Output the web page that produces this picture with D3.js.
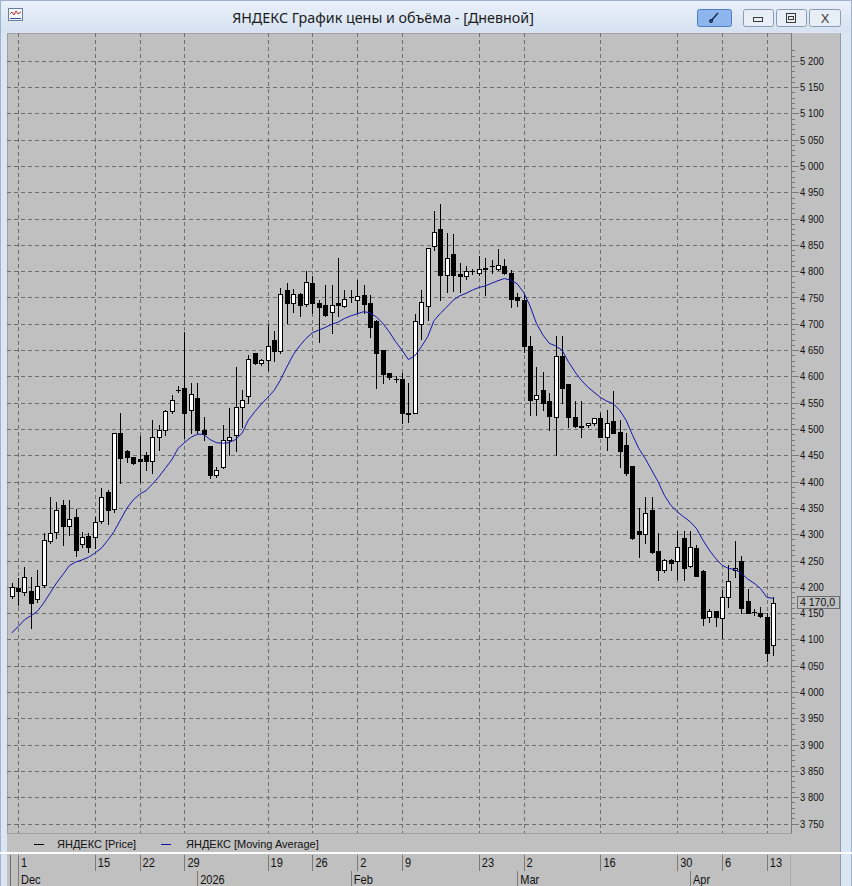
<!DOCTYPE html>
<html><head><meta charset="utf-8">
<script src="https://cdn.jsdelivr.net/npm/d3@7"></script>
<style>
html,body{margin:0;padding:0;background:#dce6f3;}
svg{display:block;}
</style></head><body><svg id="c" width="852" height="886"></svg>
<script>
// ---- data ----
const openP=[4183,4197,4190,4192,4176,4203,4288,4305,4355,4316,4332,4281,4296,4295,4326,4380,4347,4492,4458,4446,
4443,4451,4439,4484,4499,4534,4575,4577,4536,4558,4499,4468,4412,4428,4480,4488,4541,4563,4644,4625,
4632,4669,4649,4764,4740,4756,4737,4777,4739,4736,4722,4739,4734,4750,4745,4755,4739,4706,4650,4606,
4595,4596,4531,4530,4700,4733,4847,4880,4792,4833,4795,4791,4800,4796,4807,4809,4805,4810,4796,4750,
4745,4658,4557,4574,4553,4522,4639,4585,4523,4506,4507,4512,4520,4485,4515,4495,4469,4430,4306,4300,
4346,4268,4231,4251,4250,4293,4240,4274,4230,4142,4154,4140,4181,4232,4249,4173,4153,4151,4142,4089];
const highP=[4207,4216,4237,4219,4232,4302,4371,4362,4365,4365,4348,4305,4302,4333,4387,4384,4493,4530,4460,4447,
4487,4457,4517,4508,4537,4565,4582,4684,4587,4588,4523,4468,4428,4508,4539,4618,4575,4641,4645,4634,
4698,4687,4769,4778,4767,4758,4801,4790,4746,4774,4774,4826,4765,4764,4783,4774,4755,4707,4651,4607,
4601,4606,4588,4719,4764,4845,4915,4928,4872,4870,4815,4809,4805,4828,4826,4821,4843,4824,4802,4758,
4755,4677,4618,4609,4568,4676,4676,4585,4553,4553,4511,4521,4531,4536,4572,4517,4492,4430,4349,4371,
4370,4302,4252,4252,4307,4307,4307,4279,4232,4157,4154,4194,4241,4287,4259,4196,4157,4162,4151,4181];
const lowP=[4178,4165,4184,4121,4172,4200,4283,4292,4280,4299,4259,4276,4267,4273,4321,4320,4343,4397,4438,4433,
4400,4422,4416,4461,4488,4530,4571,4482,4492,4492,4479,4406,4408,4425,4450,4459,4504,4549,4624,4622,
4613,4630,4645,4702,4723,4714,4734,4721,4666,4715,4682,4714,4731,4742,4720,4720,4674,4577,4587,4596,
4590,4512,4514,4530,4672,4708,4840,4746,4761,4763,4761,4786,4795,4793,4755,4796,4802,4795,4731,4733,
4647,4527,4527,4536,4499,4451,4550,4504,4504,4485,4503,4507,4485,4460,4492,4428,4412,4290,4256,4283,
4265,4213,4229,4231,4214,4213,4238,4221,4127,4134,4125,4102,4162,4219,4150,4150,4146,4143,4058,4070];
const closeP=[4200,4192,4219,4170,4201,4289,4302,4346,4316,4328,4270,4295,4276,4324,4371,4346,4492,4444,4446,4435,
4439,4439,4484,4499,4534,4555,4575,4530,4566,4498,4490,4412,4422,4480,4485,4541,4555,4634,4625,4631,
4658,4649,4756,4740,4756,4736,4779,4739,4731,4717,4736,4735,4748,4750,4752,4738,4694,4644,4604,4598,
4595,4530,4528,4706,4742,4845,4874,4793,4826,4793,4790,4801,4800,4804,4804,4809,4811,4796,4748,4745,
4657,4556,4564,4550,4525,4638,4577,4523,4506,4503,4511,4520,4485,4512,4493,4459,4416,4293,4300,4340,
4267,4231,4251,4245,4275,4236,4275,4221,4141,4154,4143,4181,4211,4236,4160,4150,4153,4144,4075,4170];
const maP=[4112,4124,4137,4145,4153,4169,4188,4207,4223,4240,4247,4251,4256,4264,4273,4288,4305,4327,4349,4365,
4376,4383,4395,4409,4425,4441,4463,4474,4484,4490,4490,4480,4474,4473,4474,4480,4492,4517,4533,4547,
4560,4573,4593,4618,4641,4658,4672,4683,4688,4693,4699,4703,4710,4715,4719,4723,4721,4713,4701,4685,
4666,4650,4632,4639,4656,4675,4706,4720,4732,4745,4753,4758,4764,4769,4772,4777,4782,4786,4783,4776,
4760,4734,4701,4679,4663,4658,4650,4628,4609,4593,4580,4570,4560,4553,4548,4536,4517,4489,4463,4444,
4422,4400,4374,4355,4343,4333,4324,4311,4289,4270,4254,4241,4235,4233,4226,4215,4207,4197,4180,4178];
const dayTickIdx=[1,13,20,27,40,47,54,61,73,80,92,104,111,118];
const dayTickLabels=["1","15","22","29","19","26","2","9","23","2","16","30","6","13"];
const monthTickIdx=[1,29,53,79,106];
const monthLabels=["Dec","2026","Feb","Mar","Apr"];
const yTickValues=[3750,3800,3850,3900,3950,4000,4050,4100,4150,4200,4250,4300,4350,4400,4450,4500,4550,4600,4650,4700,4750,4800,4850,4900,4950,5000,5050,5100,5150,5200];
const lastPrice=4170.0;
const titleText="ЯНДЕКС График цены и объёма - [Дневной]";
const legendLabels=["ЯНДЕКС [Price]","ЯНДЕКС [Moving Average]"];

// ---- layout ----
const W=852,H=886;
const plot={l:7,r:791,t:33,b:833};
const svg=d3.select("#c");
const n=closeP.length;
const x=d3.scaleLinear().domain([0,n-1]).range([11.6,773.2]);
const y=d3.scaleLinear().domain([3750,5200]).range([823.5,60.8]);
const sans='"Liberation Sans",Arial,sans-serif';

// window frame / title bar
const defs=svg.append("defs");
const tg=defs.append("linearGradient").attr("id","tb").attr("x1",0).attr("y1",0).attr("x2",0).attr("y2",1);
tg.append("stop").attr("offset","0").attr("stop-color","#eaf1fa");
tg.append("stop").attr("offset","1").attr("stop-color","#d6e2f1");
svg.append("rect").attr("x",0).attr("y",0).attr("width",W).attr("height",H).attr("fill","#dce6f3");
svg.append("rect").attr("x",0).attr("y",0).attr("width",W).attr("height",32).attr("fill","url(#tb)");
svg.append("rect").attr("x",0.5).attr("y",0.5).attr("width",W-1).attr("height",H).attr("fill","none").attr("stroke","#9fb3cc");
svg.append("text").attr("x",383).attr("y",23).attr("text-anchor","middle")
  .attr("font-family",'"Noto Sans","Open Sans",sans-serif').attr("font-size",14.3).attr("fill","#1b1b1b").text(titleText);
// icon
const ic=svg.append("g");
ic.append("rect").attr("x",8.5).attr("y",8.5).attr("width",14).attr("height",12).attr("fill","#f4f7fb").attr("stroke","#6b7f99");
ic.append("polyline").attr("points","10,14 12,12 14,15 16,11 18,14 21,12").attr("fill","none").attr("stroke","#c03030").attr("stroke-width",1);
ic.append("line").attr("x1",10).attr("x2",21).attr("y1",18.5).attr("y2",18.5).attr("stroke","#3050a0");
// buttons
const btn=(x0,w,fill,stroke)=>svg.append("rect").attr("x",x0+0.5).attr("y",9.5).attr("width",w).attr("height",17).attr("rx",2).attr("fill",fill).attr("stroke",stroke);
btn(697,34,"#8db6ee","#4d7dc2");
svg.append("line").attr("x1",710).attr("y1",22).attr("x2",718).attr("y2",13).attr("stroke","#1a2a50").attr("stroke-width",1.5);
svg.append("circle").attr("cx",711).attr("cy",21).attr("r",1.6).attr("fill","none").attr("stroke","#1a2a50");
btn(743,30,"#e8eef6","#8a9bb3");
svg.append("rect").attr("x",753.5).attr("y",17.5).attr("width",9).attr("height",4).attr("fill","none").attr("stroke","#3a3a3a");
btn(776,30,"#e8eef6","#8a9bb3");
svg.append("rect").attr("x",786.5).attr("y",13.5).attr("width",9).attr("height",9).attr("fill","none").attr("stroke","#3a3a3a");
svg.append("rect").attr("x",788.5).attr("y",16.5).attr("width",5).attr("height",3).attr("fill","none").attr("stroke","#3a3a3a");
btn(809,31,"#e8eef6","#8a9bb3");
svg.append("text").attr("x",825).attr("y",23).attr("text-anchor","middle").attr("font-family",sans).attr("font-size",13).attr("fill","#3a3a3a").text("X");

// chart background
svg.append("rect").attr("x",plot.l).attr("y",plot.t).attr("width",840-plot.l).attr("height",H-plot.t).attr("fill","#c0c0c0");
svg.append("line").attr("x1",840.5).attr("x2",840.5).attr("y1",plot.t).attr("y2",H).attr("stroke","#8d9db2");
svg.append("rect").attr("x",plot.l+0.5).attr("y",plot.t+0.5).attr("width",plot.r-plot.l).attr("height",plot.b-plot.t).attr("fill","none").attr("stroke","#a0a0a0");

// grid
const grid=svg.append("g").attr("stroke","#6e6e6e").attr("stroke-dasharray","4,3").attr("shape-rendering","crispEdges");
grid.selectAll("line.h").data(yTickValues).join("line").attr("class","h")
  .attr("x1",plot.l).attr("x2",plot.r).attr("y1",d=>Math.round(y(d))+0.5).attr("y2",d=>Math.round(y(d))+0.5);
grid.selectAll("line.v").data(dayTickIdx).join("line").attr("class","v")
  .attr("y1",plot.t).attr("y2",plot.b).attr("x1",d=>Math.round(x(d))+0.5).attr("x2",d=>Math.round(x(d))+0.5);
// top ticks
svg.append("g").attr("stroke","#6e6e6e").attr("shape-rendering","crispEdges").selectAll("line").data(dayTickIdx).join("line")
  .attr("y1",plot.t).attr("y2",plot.t+4).attr("x1",d=>Math.round(x(d))+0.5).attr("x2",d=>Math.round(x(d))+0.5);

// right axis
const yMinor=d3.range(3750,5221,10);
const ax=svg.append("g").attr("shape-rendering","crispEdges");
ax.append("line").attr("x1",plot.r+0.5).attr("x2",plot.r+0.5).attr("y1",plot.t).attr("y2",plot.b).attr("stroke","#7a7a7a");
ax.selectAll("line.mi").data(yMinor.filter(v=>y(v)>plot.t)).join("line").attr("class","mi")
  .attr("x1",plot.r).attr("x2",plot.r+4).attr("y1",d=>Math.round(y(d))+0.5).attr("y2",d=>Math.round(y(d))+0.5).attr("stroke","#7a7a7a");
ax.selectAll("line.ma").data(yTickValues).join("line").attr("class","ma")
  .attr("x1",plot.r).attr("x2",plot.r+8).attr("y1",d=>Math.round(y(d))+0.5).attr("y2",d=>Math.round(y(d))+0.5).attr("stroke","#7a7a7a");
const fmt=v=>d3.format(",")(v).replace(/,/g," ");
svg.append("g").selectAll("text").data(yTickValues).join("text")
  .attr("transform",d=>`translate(800,${y(d)+4}) scale(0.86,1)`)
  .attr("font-family",sans).attr("font-size",11).attr("fill","#111").text(fmt);
// last price label
const lp=svg.append("g");
lp.append("rect").attr("x",797.5).attr("y",Math.round(y(lastPrice))-6.5).attr("width",42).attr("height",12).attr("fill","#c0c0c0").attr("stroke","#6e6e6e");
lp.append("text").attr("transform",`translate(800,${y(lastPrice)+3})`).attr("font-family",sans).attr("font-size",10.5).attr("fill","#111")
  .text(d3.format(",.1f")(lastPrice).replace(/,/g," ").replace(".",","));

// candles
const idx=d3.range(n);
const cg=svg.append("g").attr("shape-rendering","crispEdges");
cg.selectAll("line.w").data(idx).join("line").attr("class","w")
  .attr("x1",i=>Math.round(x(i))+0.5).attr("x2",i=>Math.round(x(i))+0.5)
  .attr("y1",i=>Math.round(y(highP[i]))).attr("y2",i=>Math.round(y(lowP[i]))+1).attr("stroke","#000");
cg.selectAll("rect.b").data(idx).join("rect").attr("class","b")
  .each(function(i){
    const up=closeP[i]>=openP[i];
    const yt=Math.round(y(Math.max(openP[i],closeP[i])));
    const yb=Math.round(y(Math.min(openP[i],closeP[i])));
    const cx=Math.round(x(i));
    const s=d3.select(this);
    if(up && yb-yt>=2){
      s.attr("x",cx-2+0.5).attr("y",yt+0.5).attr("width",4).attr("height",yb-yt).attr("fill","#fff").attr("stroke","#000");
    } else {
      s.attr("x",cx-2).attr("y",yt).attr("width",5).attr("height",Math.max(1,yb-yt+1)).attr("fill","#000");
    }
  });

// moving average
svg.append("path").datum(maP).attr("fill","none").attr("stroke","#1414a8").attr("stroke-width",1)
  .attr("d",d3.line().x((d,i)=>x(i)).y(d=>y(d)));

// legend
const lg=svg.append("g").attr("font-family",sans).attr("font-size",11).attr("fill","#111");
lg.append("line").attr("x1",34).attr("x2",44).attr("y1",844.5).attr("y2",844.5).attr("stroke","#000");
lg.append("text").attr("x",57).attr("y",848).text(legendLabels[0]);
lg.append("line").attr("x1",161).attr("x2",171).attr("y1",844.5).attr("y2",844.5).attr("stroke","#1414a8");
lg.append("text").attr("x",186).attr("y",848).text(legendLabels[1]);

// date axis
svg.append("rect").attr("x",0).attr("y",852).attr("width",W).attr("height",2).attr("fill","#ffffff");
const da=svg.append("g").attr("shape-rendering","crispEdges");
da.append("line").attr("x1",10.5).attr("x2",10.5).attr("y1",855).attr("y2",H).attr("stroke","#6e6e6e");
da.append("line").attr("x1",790.5).attr("x2",790.5).attr("y1",855).attr("y2",H).attr("stroke","#a8a8a8");
da.selectAll("line.d").data(dayTickIdx).join("line").attr("class","d")
  .attr("x1",d=>Math.round(x(d))+0.5).attr("x2",d=>Math.round(x(d))+0.5).attr("y1",855).attr("y2",871).attr("stroke","#7a7a7a");
da.selectAll("line.m").data(monthTickIdx).join("line").attr("class","m")
  .attr("x1",d=>Math.round(x(d))+0.5).attr("x2",d=>Math.round(x(d))+0.5).attr("y1",871).attr("y2",H).attr("stroke","#7a7a7a");
da.selectAll("text.d").data(dayTickIdx).join("text").attr("class","d")
  .attr("transform",d=>`translate(${x(d)+3},867) scale(0.92,1)`).attr("font-family",sans).attr("font-size",12).attr("fill","#111").text((d,k)=>dayTickLabels[k]);
da.selectAll("text.m").data(monthTickIdx).join("text").attr("class","m")
  .attr("transform",d=>`translate(${x(d)+3},884) scale(0.92,1)`).attr("font-family",sans).attr("font-size",12).attr("fill","#111").text((d,k)=>monthLabels[k]);
</script></body></html>
